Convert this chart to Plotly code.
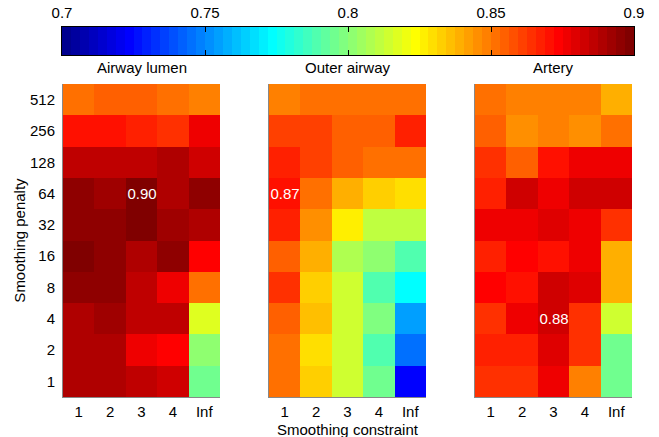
import numpy as np
import plotly.graph_objects as go

# ---------------- data ----------------
constraints = ["1", "2", "3", "4", "Inf"]
penalties = ["512", "256", "128", "64", "32", "16", "8", "4", "2", "1"]  # top to bottom
panel_titles = ["Airway lumen", "Outer airway", "Artery"]
x_title = "Smoothing constraint"
y_title = "Smoothing penalty"

airway_lumen = [
    [0.850, 0.856, 0.856, 0.853, 0.848],
    [0.869, 0.869, 0.866, 0.8625, 0.875],
    [0.885, 0.885, 0.885, 0.888, 0.882],
    [0.894, 0.892, 0.899, 0.889, 0.894],
    [0.894, 0.894, 0.897, 0.892, 0.888],
    [0.897, 0.894, 0.888, 0.894, 0.872],
    [0.894, 0.894, 0.885, 0.878, 0.850],
    [0.888, 0.892, 0.885, 0.885, 0.8185],
    [0.888, 0.888, 0.878, 0.872, 0.803],
    [0.888, 0.888, 0.885, 0.882, 0.794],
]
outer_airway = [
    [0.847, 0.850, 0.850, 0.853, 0.850],
    [0.8595, 0.8595, 0.856, 0.856, 0.866],
    [0.866, 0.8595, 0.856, 0.853, 0.853],
    [0.869, 0.853, 0.8405, 0.834, 0.8285],
    [0.866, 0.844, 0.825, 0.8095, 0.8095],
    [0.856, 0.839, 0.808, 0.803, 0.7875],
    [0.8625, 0.834, 0.815, 0.7875, 0.772],
    [0.856, 0.836, 0.815, 0.797, 0.756],
    [0.853, 0.8285, 0.8125, 0.7875, 0.744],
    [0.853, 0.8315, 0.8125, 0.794, 0.724],
]
artery = [
    [0.851, 0.847, 0.847, 0.847, 0.8405],
    [0.855, 0.845, 0.848, 0.845, 0.850],
    [0.8625, 0.856, 0.869, 0.875, 0.878],
    [0.866, 0.883, 0.878, 0.883, 0.882],
    [0.875, 0.878, 0.881, 0.875, 0.8625],
    [0.866, 0.872, 0.869, 0.875, 0.8405],
    [0.872, 0.869, 0.883, 0.879, 0.8405],
    [0.8625, 0.875, 0.884, 0.8625, 0.8125],
    [0.866, 0.866, 0.879, 0.8625, 0.794],
    [0.8625, 0.8625, 0.878, 0.847, 0.794],
]
panels = [airway_lumen, outer_airway, artery]

cmin, cmax = 0.7, 0.9
cbar_ticks = [0.7, 0.75, 0.8, 0.85, 0.9]
cbar_ticktext = ["0.7", "0.75", "0.8", "0.85", "0.9"]

# ---------------- jet(64) discrete colormap ----------------
def jet(m=64):
    n = int(np.ceil(m / 4))
    u = np.concatenate([np.arange(1, n + 1) / n, np.ones(n - 1), np.arange(n, 0, -1) / n])
    g = int(np.ceil(n / 2)) - (1 if m % 4 == 1 else 0) + np.arange(1, len(u) + 1)
    r = g + n
    b = g - n
    J = np.zeros((m, 3))
    for idx, ch in ((r, 0), (g, 1), (b, 2)):
        ok = (idx >= 1) & (idx <= m)
        J[idx[ok] - 1, ch] = u[ok]
    return J

J = jet(64)
colorscale = []
for i, c in enumerate(J):
    col = "rgb(%d,%d,%d)" % tuple(np.round(c * 255).astype(int))
    colorscale.append([i / 64, col])
    colorscale.append([(i + 1) / 64, col])

FONT = "Liberation Sans, Arial, Helvetica, sans-serif"
W, H = 659, 437

fig = go.Figure()

# panel domains (pixels -> paper)
xdoms = [(63, 220), (269, 426), (475, 632)]
ydom = (1 - 397 / H, 1 - 84 / H)

for k, (z, title) in enumerate(zip(panels, panel_titles)):
    z = np.array(z)
    zmax = z.max()
    text = np.where(z == zmax, np.vectorize(lambda v: f"{v:.2f}")(z), "")
    ax = "" if k == 0 else str(k + 1)
    fig.add_trace(go.Heatmap(
        z=z, x=constraints, y=penalties,
        colorscale=colorscale, zmin=cmin, zmax=cmax, showscale=False,
        text=text, texttemplate="%{text}",
        textfont=dict(color="white", size=15, family=FONT),
        xaxis="x" + ax, yaxis="y" + ax, hoverinfo="skip",
    ))
    fig.layout["xaxis" + ax] = dict(
        domain=[xdoms[k][0] / W, xdoms[k][1] / W], anchor="y" + ax,
        type="category", showgrid=False, zeroline=False, ticks="",
        showline=True, linecolor="#888", linewidth=1, automargin=False,
        tickfont=dict(size=15, family=FONT, color="black"),
        ticklabelstandoff=1,
    )
    fig.layout["yaxis" + ax] = dict(
        domain=list(ydom), anchor="x" + ax, type="category",
        autorange="reversed", showgrid=False, zeroline=False, ticks="",
        showline=True, linecolor="#888", linewidth=1, automargin=False,
        showticklabels=(k == 0),
        tickfont=dict(size=15, family=FONT, color="black"),
        ticklabelstandoff=4,
    )
    fig.add_annotation(
        text=title, x=(xdoms[k][0] + xdoms[k][1]) / 2 / W, y=1 - 68 / H,
        xref="paper", yref="paper", showarrow=False,
        font=dict(size=15, family=FONT, color="black"),
        xanchor="center", yanchor="middle",
    )

fig.add_annotation(
    text=x_title, x=(xdoms[1][0] + xdoms[1][1]) / 2 / W, y=1 - 429 / H,
    xref="paper", yref="paper", showarrow=False,
    font=dict(size=15, family=FONT, color="black"),
    xanchor="center", yanchor="middle",
)
fig.layout.yaxis.title = dict(text=y_title, standoff=0,
                              font=dict(size=15, family=FONT, color="black"))

# colour bar drawn as its own strip
nb = 64
cb_x = cmin + (np.arange(nb) + 0.5) * (cmax - cmin) / nb
fig.add_trace(go.Heatmap(
    z=[cb_x], x=cb_x, y=[0], colorscale=colorscale, zmin=cmin, zmax=cmax,
    showscale=False, xaxis="x4", yaxis="y4", hoverinfo="skip",
))
fig.layout.xaxis4 = dict(
    domain=[62 / W, 634 / W], anchor="y4", range=[cmin, cmax], side="top",
    tickvals=cbar_ticks, ticktext=cbar_ticktext, ticks="inside", ticklen=5,
    tickcolor="black", showline=True, linecolor="black", linewidth=1,
    mirror="ticks", showgrid=False, zeroline=False, automargin=False,
    tickfont=dict(size=15, family=FONT, color="black"), ticklabelstandoff=2,
)
fig.layout.yaxis4 = dict(
    domain=[1 - 55 / H, 1 - 27 / H], anchor="x4", range=[-0.5, 0.5],
    showticklabels=False, ticks="", showline=True, linecolor="black",
    linewidth=1, mirror=True, showgrid=False, zeroline=False, automargin=False,
)

fig.update_layout(
    width=W, height=H, margin=dict(l=0, r=0, t=0, b=0, autoexpand=False),
    plot_bgcolor="white", paper_bgcolor="white",
    font=dict(family=FONT, size=15, color="black"),
)

fig.write_html("out.html", config={"displayModeBar": False},
               post_script="document.body.style.margin='0';document.body.style.overflow='hidden';")
